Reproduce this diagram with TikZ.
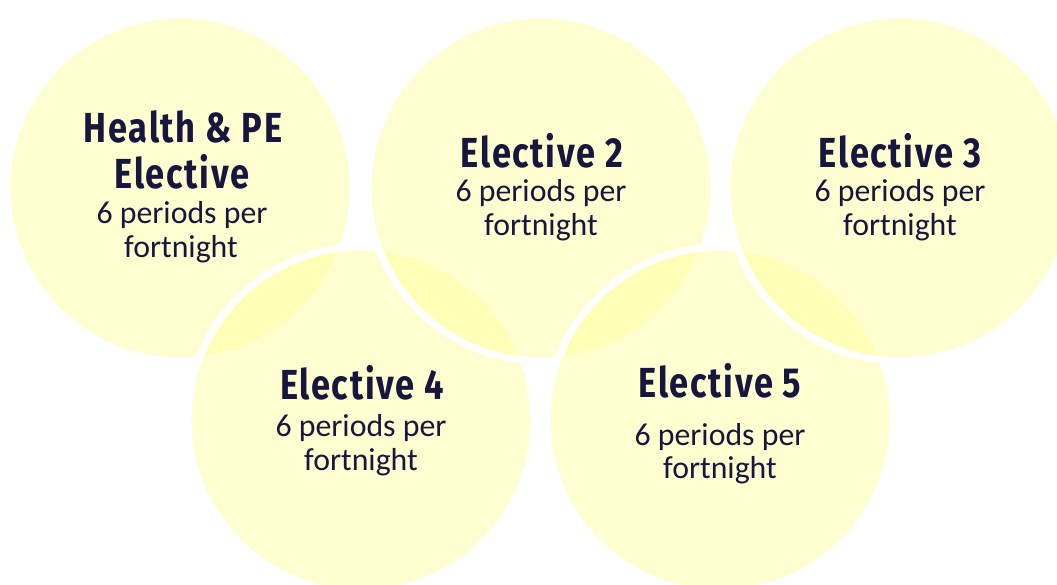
\documentclass[tikz,border=0pt]{standalone}
\usepackage{fontspec}
\setmainfont{Carlito}
\newfontfamily\titlefont{Fira Sans}[FakeStretch=0.82,LetterSpace=4]
\definecolor{txt}{HTML}{16163E}
\definecolor{disc}{HTML}{FFFD96}
\begin{document}
\begin{tikzpicture}[x=1pt,y=-1pt,
  disk/.style={circle, minimum size=346pt, inner sep=0pt, fill=disc, fill opacity=0.45, draw=white, line width=7pt},
  ttl/.style={font=\titlefont\bfseries\fontsize{42}{46}\selectfont, text=txt, anchor=base, inner sep=0pt},
  body/.style={font=\fontsize{31.8}{34}\selectfont, text=txt, anchor=base, inner sep=0pt}]
\path[use as bounding box] (0,0) rectangle (1057,584);
\clip (0,0) rectangle (1057,584);
\node[disk] (c1) at (180,188) {};
\node[disk] (c4) at (361,420) {};
\node[disk] (c2) at (541,188) {};
\node[disk] (c5) at (720,420) {};
\node[disk] (c3) at (900,188) {};
% circle 1
\node[ttl] (t1a) at (183,142) {Health \& PE};
\node[ttl] (t1b) at (182,188) {Elective};
\node[body] (b1a) at (182,223) {6 periods per};
\node[body] (b1b) at (181,257) {fortnight};
% circle 2
\node[ttl] (t2) at (542,167) {Elective 2};
\node[body] (b2a) at (541,201) {6 periods per};
\node[body] (b2b) at (541,235) {fortnight};
% circle 3
\node[ttl] (t3) at (900,167) {Elective 3};
\node[body] (b3a) at (900,201) {6 periods per};
\node[body] (b3b) at (900,235) {fortnight};
% circle 4
\node[ttl] (t4) at (362,399) {Elective 4};
\node[body] (b4a) at (361,436) {6 periods per};
\node[body] (b4b) at (361,470) {fortnight};
% circle 5
\node[ttl] (t5) at (720,397) {Elective 5};
\node[body] (b5a) at (720,445) {6 periods per};
\node[body] (b5b) at (720,478) {fortnight};
\end{tikzpicture}
\end{document}
